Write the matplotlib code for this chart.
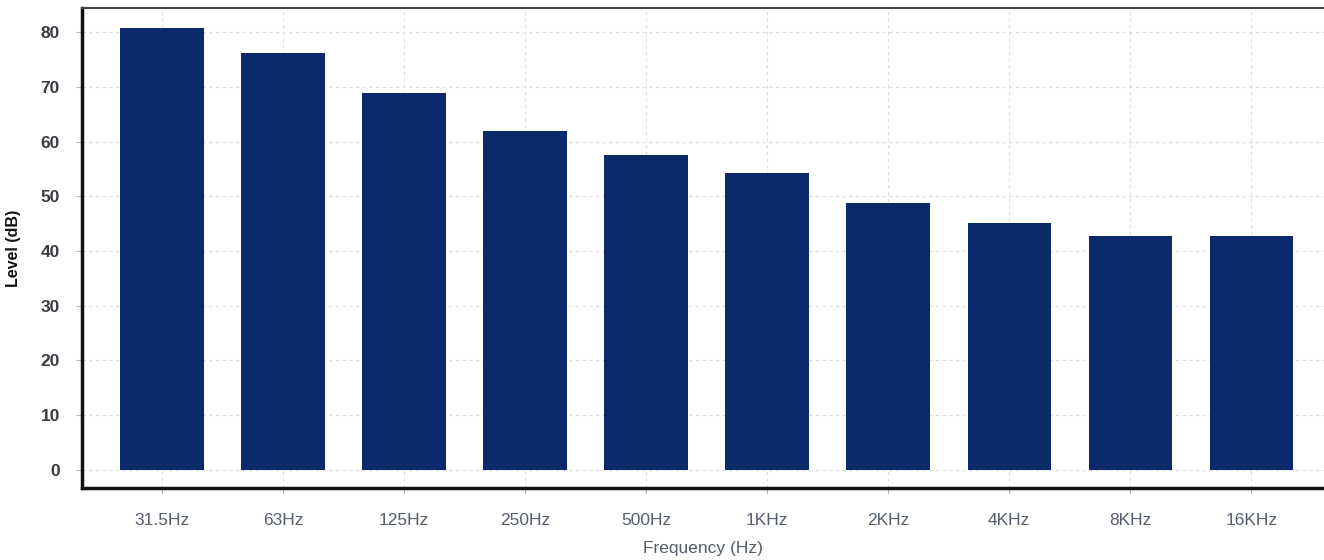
import matplotlib
matplotlib.use('Agg')
import matplotlib.pyplot as plt
import numpy as np

bands = ['31.5Hz', '63Hz', '125Hz', '250Hz', '500Hz', '1KHz', '2KHz', '4KHz', '8KHz', '16KHz']
levels = [80.8, 76.1, 68.9, 61.9, 57.5, 54.2, 48.8, 45.1, 42.7, 42.7]
yticks = [0, 10, 20, 30, 40, 50, 60, 70, 80]

plt.rcParams['font.family'] = ['Liberation Sans', 'DejaVu Sans']

fig = plt.figure(figsize=(13.24, 5.6), dpi=100)
ax = fig.add_axes([82/1324, 72/560, (1324-82)/1324, 480/560])

x = np.arange(len(bands))
ax.bar(x, levels, width=0.69, color='#0a2a6b', zorder=3)

ax.set_xlim(-0.66, 9.60)
ax.set_ylim(-3.3, 84.4)
ax.set_xticks(x)
ax.set_xticklabels(bands, fontsize=12.5, color='#565d6e')
ax.set_yticks(yticks)
ax.set_yticklabels([str(v) for v in yticks], fontsize=12.5, color='#3a3a42', fontweight='bold')
ax.tick_params(axis='x', length=4, pad=14, color='#bbbbbb')
ax.tick_params(axis='y', length=4, pad=12, color='#bbbbbb')

ax.grid(True, color='#dedede', linestyle=(0, (3, 3)), linewidth=0.8, zorder=0)

ax.spines['left'].set_linewidth(2.5)
ax.spines['bottom'].set_linewidth(2.5)
ax.spines['left'].set_color('#111111')
ax.spines['bottom'].set_color('#111111')
ax.spines['top'].set_linewidth(1.5)
ax.spines['top'].set_color('#444444')
ax.spines['right'].set_visible(False)

ax.set_xlabel('Frequency (Hz)', fontsize=12.5, color='#565d6e', labelpad=9)
ax.set_ylabel('Level (dB)', fontsize=11.5, color='#111111', fontweight='bold', labelpad=14)

fig.savefig('out.png', dpi=100)
